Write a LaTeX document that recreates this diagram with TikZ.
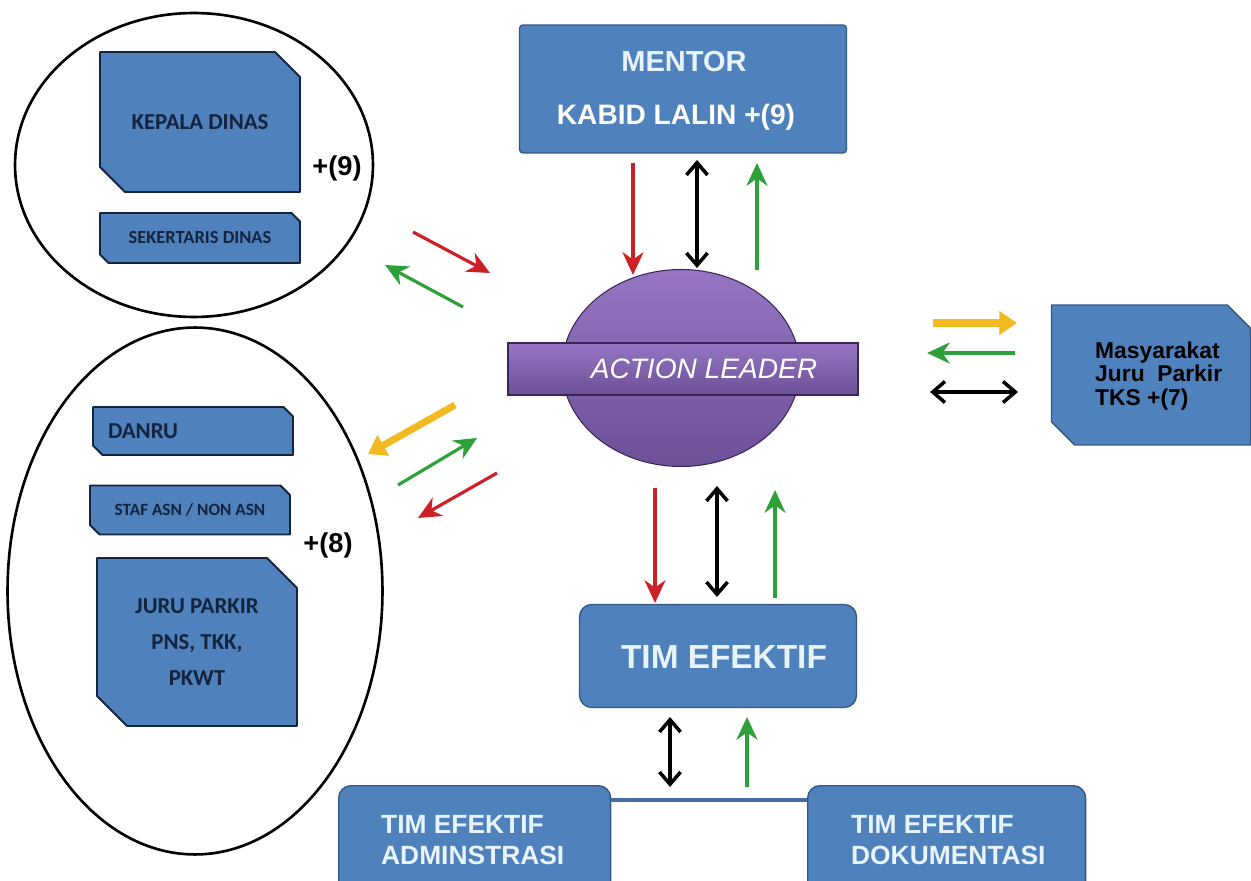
\documentclass[tikz,border=0pt]{standalone}
\usepackage{fontspec}
\setmainfont{Liberation Sans}
\newfontfamily\calibri{Carlito}
\definecolor{officeblue}{RGB}{79,129,189}
\definecolor{navy}{RGB}{20,35,62}
\definecolor{boxedge}{RGB}{52,88,132}
\definecolor{leadtop}{RGB}{150,118,196}
\definecolor{leadbottom}{RGB}{108,80,150}
\definecolor{leadedge}{RGB}{58,38,88}
\definecolor{arrred}{RGB}{205,32,38}
\definecolor{arrgreen}{RGB}{46,160,58}
\definecolor{arryellow}{RGB}{240,186,32}
\definecolor{labelwhite}{RGB}{232,244,252}
\usepackage{tikz}
\usetikzlibrary{shapes.geometric, arrows.meta, calc, backgrounds}

% outline with cut north-east and south-west corners round a node
\newcommand{\chamferbox}[3]{%
  \draw[#1] (#2.north west) -- ([xshift=-#3]#2.north east) -- ([yshift=-#3]#2.north east)
    -- (#2.south east) -- ([xshift=#3]#2.south west) -- ([yshift=#3]#2.south west) -- cycle;}

\begin{document}
\begin{tikzpicture}[
      x=0.02cm, y=-0.02cm,
      group/.style={ellipse, draw=black, line width=1.5pt, inner sep=0pt},
      cutbox/.style={rectangle, inner sep=0pt, outer sep=0pt, text=navy, align=center},
      cutfill/.style={draw=navy, line width=1.1pt, fill=officeblue, line join=round},
      cutfillb/.style={draw=boxedge, line width=0.8pt, fill=officeblue, line join=round},
      bluebox/.style={rectangle, draw=boxedge, line width=0.8pt, fill=officeblue, inner sep=0pt},
      wlabel/.style={text=labelwhite, font=\bfseries},
      plus/.style={font=\fontsize{15.5}{16}\selectfont\bfseries},
      redarr/.style={-{Stealth[length=13pt,width=12pt]}, line width=1.8pt, arrred},
      greenarr/.style={-{Stealth[length=13pt,width=12pt]}, line width=1.8pt, arrgreen},
      blackarr/.style={{Straight Barb[length=7pt,width=12pt]}-{Straight Barb[length=7pt,width=12pt]}, line width=2pt, black},
      yellowarr/.style={-{Triangle[length=10pt,width=13pt]}, line width=4pt, arryellow},
    ]
    \useasboundingbox (0,0) rectangle (1251,881);
    \clip (0,0) rectangle (1251,881);

    % left groups
    \node[group, minimum width=7.16cm, minimum height=6.08cm] (topgrp) at (194,165) {};
    \node[group, minimum width=7.5cm, minimum height=10.54cm] (botgrp) at (195,591) {};

    \node[cutbox, minimum width=4cm, minimum height=2.8cm, font=\calibri\bfseries\fontsize{13}{15}\selectfont] (kadis) at (200,122) {KEPALA DINAS};
    \node[cutbox, minimum width=4cm, minimum height=1cm, font=\calibri\bfseries\fontsize{10.5}{12}\selectfont] (sekdis) at (200,238) {SEKERTARIS DINAS};
    \node[plus] (plusnine) at (337,168) {+(9)};

    \node[cutbox, minimum width=4cm, minimum height=0.96cm, text width=3.4cm, align=left, font=\calibri\bfseries\fontsize{13}{15}\selectfont] (danru) at (193,431) {DANRU};
    \node[cutbox, minimum width=4cm, minimum height=0.98cm, font=\calibri\bfseries\fontsize{9.8}{12}\selectfont] (staf) at (190,510) {STAF ASN / NON ASN};
    \node[cutbox, minimum width=4cm, minimum height=3.36cm, font=\calibri\bfseries\fontsize{13}{20.5}\selectfont] (juru) at (197,642) {JURU PARKIR\\PNS, TKK,\\PKWT};
    \node[plus] (pluseight) at (328,545) {+(8)};

    % mentor
    \node[bluebox, rounded corners=2pt, minimum width=6.54cm, minimum height=2.56cm] (mentor) at (683,89) {};
    \node[wlabel, font=\fontsize{16.5}{16.5}\selectfont\bfseries] (mentorlbl) at (684,62) {MENTOR};
    \node[text=white, font=\fontsize{16}{16}\selectfont\bfseries] (kabid) at (676,117) {KABID LALIN +(9)};

    % action leader
    \node[ellipse, draw=leadedge, line width=0.6pt, top color=leadtop, bottom color=leadbottom, minimum width=4.76cm, minimum height=3.94cm] (leader) at (681,368) {};
    \node[rectangle, draw=leadedge, line width=0.8pt, top color=leadtop, bottom color=leadbottom, minimum width=7cm, minimum height=1.04cm] (banner) at (683,369) {};
    \node[text=white, font=\fontsize{16}{16}\selectfont\itshape] (leadlbl) at (704,369) {ACTION LEADER};

    % masyarakat
    \node[cutbox, minimum width=3.98cm, minimum height=2.8cm] (masy) at (1151,375) {};
    \node[align=left, anchor=west, font=\fontsize{13}{13.4}\selectfont\bfseries] (masylbl) at (1089,376) {Masyarakat\\Juru~~Parkir\\TKS +(7)};

    \begin{scope}[on background layer]
      \chamferbox{cutfill}{kadis}{0.5cm}
      \chamferbox{cutfill}{sekdis}{0.17cm}
      \chamferbox{cutfill}{danru}{0.19cm}
      \chamferbox{cutfill}{staf}{0.19cm}
      \chamferbox{cutfill}{juru}{0.6cm}
      \chamferbox{cutfillb}{masy}{0.46cm}
    \end{scope}

    % tim efektif
    \node[bluebox, rounded corners=7pt, minimum width=5.54cm, minimum height=2.06cm] (timef) at (718,656) {};
    \node[wlabel, font=\fontsize{19}{19}\selectfont\bfseries] (timeflbl) at (724,657) {TIM EFEKTIF};
    \node[bluebox, rounded corners=7pt, minimum width=5.44cm, minimum height=2.6cm, anchor=north west] (timadm) at (338,785) {};
    \node[wlabel, align=left, anchor=west, font=\fontsize{15}{18}\selectfont\bfseries] (admlbl) at (375,840) {TIM EFEKTIF\\ADMINSTRASI};
    \node[bluebox, rounded corners=7pt, minimum width=5.56cm, minimum height=2.6cm, anchor=north west] (timdok) at (807,785) {};
    \node[wlabel, align=left, anchor=west, font=\fontsize{15}{18}\selectfont\bfseries] (doklbl) at (845,840) {TIM EFEKTIF\\DOKUMENTASI};
    \draw[line width=2.2pt, officeblue!85!black] ($(timadm.north east)+(0,15)$) -- ($(timdok.north west)+(0,15)$);

    % arrows
    \coordinate (mr1) at (633,163); \coordinate (mr2) at (633,275);
    \coordinate (mb1) at (697,160); \coordinate (mb2) at (697,268);
    \coordinate (mg1) at (757,270); \coordinate (mg2) at (757,163);
    \draw[redarr] (mr1) -- (mr2);
    \draw[blackarr] (mb1) -- (mb2);
    \draw[greenarr] (mg1) -- (mg2);

    \coordinate (tr1) at (413,232); \coordinate (tr2) at (490,273);
    \coordinate (tg1) at (463,307); \coordinate (tg2) at (385,265);
    \draw[redarr] (tr1) -- (tr2);
    \draw[greenarr] (tg1) -- (tg2);

    \coordinate (by1) at (455,405); \coordinate (by2) at (368,454);
    \coordinate (bg1) at (398,485); \coordinate (bg2) at (477,438);
    \coordinate (br1) at (497,473); \coordinate (br2) at (418,518);
    \draw[yellowarr] (by1) -- (by2);
    \draw[greenarr] (bg1) -- (bg2);
    \draw[redarr] (br1) -- (br2);

    \coordinate (ry1) at (933,323); \coordinate (ry2) at (1017,323);
    \coordinate (rg1) at (1015,353); \coordinate (rg2) at (927,353);
    \coordinate (rb1) at (930,392); \coordinate (rb2) at (1018,392);
    \draw[yellowarr] (ry1) -- (ry2);
    \draw[greenarr] (rg1) -- (rg2);
    \draw[blackarr] (rb1) -- (rb2);

    \coordinate (tr3) at (655,488); \coordinate (tr4) at (655,603);
    \coordinate (tb3) at (717,486); \coordinate (tb4) at (717,597);
    \coordinate (tg3) at (775,598); \coordinate (tg4) at (775,490);
    \draw[redarr] (tr3) -- (tr4);
    \draw[blackarr] (tb3) -- (tb4);
    \draw[greenarr] (tg3) -- (tg4);

    \coordinate (sb1) at (670,717); \coordinate (sb2) at (670,787);
    \coordinate (sg1) at (747,787); \coordinate (sg2) at (747,717);
    \draw[blackarr] (sb1) -- (sb2);
    \draw[greenarr] (sg1) -- (sg2);
  \end{tikzpicture}
\end{document}
